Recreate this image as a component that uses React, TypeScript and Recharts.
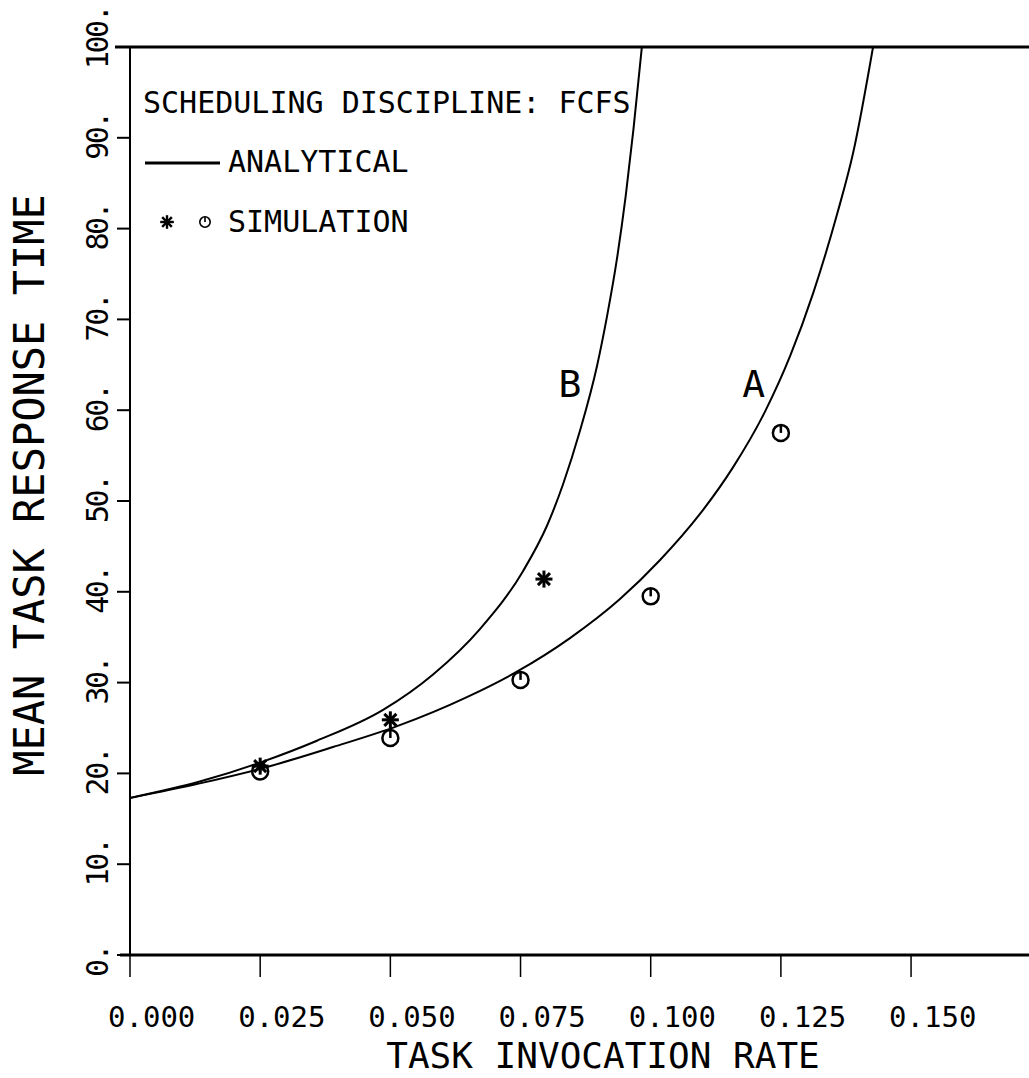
import React from 'react';
import {
  ComposedChart,
  Line,
  Scatter,
  XAxis,
  YAxis,
  ReferenceLine,
  ReferenceDot,
  Customized,
} from 'recharts';

const FONT = '"DejaVu Sans Mono", monospace';

// ---- tick values & labels ----
const xTickValues = [0, 0.025, 0.05, 0.075, 0.1, 0.125, 0.15];
const xTickLabels = ['0.000', '0.025', '0.050', '0.075', '0.100', '0.125', '0.150'];
const yTickValues = [0, 10, 20, 30, 40, 50, 60, 70, 80, 90, 100];
const yTickLabels = ['0.', '10.', '20.', '30.', '40.', '50.', '60.', '70.', '80.', '90.', '100.'];

// ---- analytical curves ----
const analyticalA = [
  { x: 0, y: 17.3 },
  { x: 0.0134, y: 18.9 },
  { x: 0.0263, y: 20.7 },
  { x: 0.039, y: 22.9 },
  { x: 0.0513, y: 25.2 },
  { x: 0.0647, y: 28.4 },
  { x: 0.0743, y: 31.2 },
  { x: 0.0845, y: 34.9 },
  { x: 0.0941, y: 39.2 },
  { x: 0.1018, y: 43.5 },
  { x: 0.1095, y: 48.6 },
  { x: 0.1158, y: 53.7 },
  { x: 0.122, y: 59.9 },
  { x: 0.1268, y: 66.0 },
  { x: 0.1312, y: 72.9 },
  { x: 0.1358, y: 81.6 },
  { x: 0.1389, y: 88.4 },
  { x: 0.1427, y: 100 },
];

const analyticalB = [
  { x: 0, y: 17.3 },
  { x: 0.0134, y: 19.1 },
  { x: 0.0255, y: 21.3 },
  { x: 0.0359, y: 23.6 },
  { x: 0.0486, y: 27.0 },
  { x: 0.0582, y: 30.9 },
  { x: 0.0672, y: 35.9 },
  { x: 0.0755, y: 42.3 },
  { x: 0.0801, y: 47.3 },
  { x: 0.0832, y: 51.9 },
  { x: 0.0864, y: 57.7 },
  { x: 0.0897, y: 64.9 },
  { x: 0.0916, y: 70.3 },
  { x: 0.0935, y: 76.6 },
  { x: 0.0952, y: 83.6 },
  { x: 0.0967, y: 91.0 },
  { x: 0.0983, y: 100 },
];

// ---- simulation points ----
const simulationA = [
  { x: 0.025, y: 20.2 },
  { x: 0.05, y: 23.9 },
  { x: 0.075, y: 30.3 },
  { x: 0.1, y: 39.5 },
  { x: 0.125, y: 57.5 },
];
const simulationB = [
  { x: 0.025, y: 20.8 },
  { x: 0.05, y: 25.9 },
  { x: 0.0795, y: 41.4 },
];

// ---- curve name labels (data coordinates) ----
const curveLabels = [
  { name: 'A', x: 0.1198, y: 63.0 },
  { name: 'B', x: 0.0845, y: 63.0 },
];

const findLabel = (vals: number[], labels: string[], v: number) => {
  const i = vals.findIndex((t) => Math.abs(t - v) < 1e-9);
  return i >= 0 ? labels[i] : String(v);
};

const XTick = (props: any) => {
  const { x, y, payload } = props;
  return (
    <text x={x - 22} y={y + 50} textAnchor="start" fontFamily={FONT} fontSize={29} fill="#000">
      {findLabel(xTickValues, xTickLabels, payload.value)}
    </text>
  );
};

const YTick = (props: any) => {
  const { x, y, payload } = props;
  const bx = x - 9;
  const by = y + 22;
  return (
    <text
      x={bx}
      y={by}
      transform={`rotate(-90, ${bx}, ${by})`}
      textAnchor="start"
      fontFamily={FONT}
      fontSize={30}
      letterSpacing={-2.5}
      fill="#000"
    >
      {findLabel(yTickValues, yTickLabels, payload.value)}
    </text>
  );
};

const CircleMark = (p: any) => {
  if (p.cx == null || p.cy == null) return null;
  const r = 8;
  return (
    <g>
      <circle cx={p.cx} cy={p.cy} r={r} fill="none" stroke="#000" strokeWidth={2.5} />
      <line x1={p.cx} y1={p.cy - r} x2={p.cx} y2={p.cy} stroke="#000" strokeWidth={2.5} />
    </g>
  );
};

const StarMark = (p: any) => {
  if (p.cx == null || p.cy == null) return null;
  const r = 8.5;
  const d = r * 0.7071;
  return (
    <g stroke="#000" strokeWidth={3}>
      <line x1={p.cx - r} y1={p.cy} x2={p.cx + r} y2={p.cy} />
      <line x1={p.cx} y1={p.cy - r} x2={p.cx} y2={p.cy + r} />
      <line x1={p.cx - d} y1={p.cy - d} x2={p.cx + d} y2={p.cy + d} />
      <line x1={p.cx - d} y1={p.cy + d} x2={p.cx + d} y2={p.cy - d} />
    </g>
  );
};

const CurveName = (name: string) => (p: any) => {
  if (p.cx == null || p.cy == null) return null;
  return (
    <text x={p.cx} y={p.cy + 14} textAnchor="middle" fontFamily={FONT} fontSize={38} fill="#000">
      {name}
    </text>
  );
};

const Overlay = () => (
  <g>
    {/* frame extensions to the left of the axis, as drawn by the plotter */}
    <line x1={115} y1={47} x2={130} y2={47} stroke="#000" strokeWidth={3} />
    <line x1={120} y1={955} x2={130} y2={955} stroke="#000" strokeWidth={3} />
    {/* legend */}
    <text x={143} y={113} fontFamily={FONT} fontSize={30} fill="#000">
      SCHEDULING DISCIPLINE: FCFS
    </text>
    <line x1={145} y1={163} x2={220} y2={163} stroke="#000" strokeWidth={3} />
    <text x={228} y={172} fontFamily={FONT} fontSize={30} fill="#000">
      ANALYTICAL
    </text>
    <g transform="translate(167,222) scale(0.8) translate(-167,-222)">
      <StarMark cx={167} cy={222} />
    </g>
    <g transform="translate(205,222) scale(0.65) translate(-205,-222)">
      <CircleMark cx={205} cy={222} />
    </g>
    <text x={228} y={232} fontFamily={FONT} fontSize={30} fill="#000">
      SIMULATION
    </text>
    {/* axis titles */}
    <text
      x={44}
      y={485}
      transform="rotate(-90, 44, 485)"
      textAnchor="middle"
      fontFamily={FONT}
      fontSize={42}
      fill="#000"
    >
      MEAN TASK RESPONSE TIME
    </text>
    <text x={603} y={1068} textAnchor="middle" fontFamily={FONT} fontSize={36} fill="#000">
      TASK INVOCATION RATE
    </text>
  </g>
);

export default function App() {
  return (
    <div style={{ position: 'absolute', left: 0, top: 0, background: '#fff' }}>
      <ComposedChart
        width={1029}
        height={1078}
        margin={{ top: 47, right: 0, bottom: 0, left: 0 }}
      >
        <XAxis
          type="number"
          dataKey="x"
          domain={[0, 0.17265]}
          allowDataOverflow
          ticks={xTickValues}
          interval={0}
          height={123}
          tickSize={22}
          tickMargin={0}
          axisLine={{ stroke: '#000', strokeWidth: 3 }}
          tickLine={{ stroke: '#000', strokeWidth: 1.5 }}
          tick={<XTick />}
        />
        <YAxis
          type="number"
          dataKey="y"
          domain={[0, 100]}
          allowDataOverflow
          ticks={yTickValues}
          interval={0}
          width={130}
          tickSize={13}
          tickMargin={0}
          axisLine={{ stroke: '#000', strokeWidth: 2 }}
          tickLine={{ stroke: '#000', strokeWidth: 2 }}
          tick={<YTick />}
        />
        <ReferenceLine y={100} stroke="#000" strokeWidth={3} />
        <Line
          data={analyticalA}
          dataKey="y"
          type="monotone"
          stroke="#000"
          strokeWidth={2}
          dot={false}
          isAnimationActive={false}
        />
        <Line
          data={analyticalB}
          dataKey="y"
          type="monotone"
          stroke="#000"
          strokeWidth={2}
          dot={false}
          isAnimationActive={false}
        />
        <Scatter data={simulationA} dataKey="y" shape={CircleMark} isAnimationActive={false} />
        <Scatter data={simulationB} dataKey="y" shape={StarMark} isAnimationActive={false} />
        {curveLabels.map((c) => (
          <ReferenceDot key={c.name} x={c.x} y={c.y} r={0} shape={CurveName(c.name)} />
        ))}
        <Customized component={Overlay} />
      </ComposedChart>
    </div>
  );
}
